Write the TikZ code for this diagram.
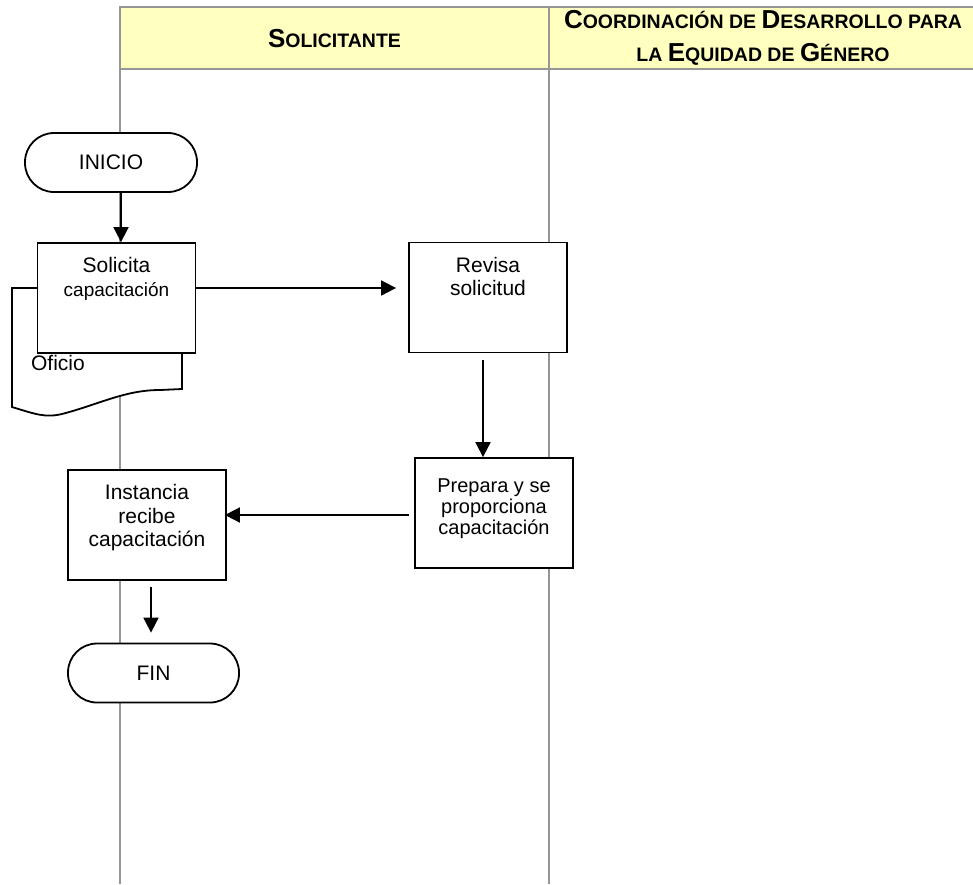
\documentclass[tikz,border=0pt]{standalone}
\usepackage{fontspec}
\setmainfont{Liberation Sans}
\usepackage{xcolor}
\usepackage{tikz}
\usetikzlibrary{arrows.meta, positioning}

\definecolor{lanehead}{RGB}{255,255,192}
\definecolor{laneline}{RGB}{150,150,150}
\newcommand{\capsc}[2]{{\fontsize{26}{34}\selectfont #1}{\fontsize{19.5}{34}\selectfont #2}}

\begin{document}
\begin{tikzpicture}[x=1pt, y=-1pt,
    box/.style={draw, fill=white, line width=1.8pt, minimum width=158pt, minimum height=110pt, inner sep=0pt},
    term/.style={draw, fill=white, line width=1.8pt, rounded corners=29pt, minimum width=172pt, minimum height=59pt, font=\fontsize{21}{24}\selectfont},
    boxtext/.style={anchor=north, align=center, font=\fontsize{21}{23.5}\selectfont, yshift=-12pt},
    arr/.style={-{Triangle[length=15pt, width=15pt]}, line width=1.8pt},
    lane/.style={draw=laneline, line width=2pt}]
    \useasboundingbox (0,0) rectangle (973,884);

    % lanes
    \fill[lanehead] (120,7) rectangle (976,69);
    \draw[lane] (976,7) -- (120,7) -- (120,884);
    \draw[lane] (120,69) -- (976,69);
    \draw[lane] (549,7) -- (549,884);
    \node[font=\bfseries] (hsol) at (334.5,39) {\capsc{S}{OLICITANTE}};
    \node[font=\bfseries\fontsize{19.5}{33}\selectfont, align=center] (hcoord) at (763,38)
        {\capsc{C}{OORDINACIÓN DE }\capsc{D}{ESARROLLO PARA}\\\capsc{}{LA }\capsc{E}{QUIDAD DE }\capsc{G}{ÉNERO}};

    % document behind the first box
    \draw[line width=1.8pt, fill=white] (182,389) -- (182,288) -- (12,288) -- (12,407)
        .. controls (35,414) and (45,418) .. (62,414)
        .. controls (100,404) and (125,390) .. (160,390) -- cycle;
    \node[font=\fontsize{21}{24}\selectfont] (oficio) at (58,363) {Oficio};

    \node[term] (inicio) at (111,162.5) {INICIO};
    \node[box, label={[boxtext]north:Solicita\\{\fontsize{19}{23}\selectfont capacitación}}] (sol) at (116.5,298) {};
    \node[box, label={[boxtext]north:Revisa\\solicitud}] (rev) at (488,297.5) {};
    \node[box, label={[boxtext, font=\fontsize{20}{21}\selectfont, yshift=-6pt]north:Prepara y se\\proporciona\\capacitación}] (prep) at (494,513) {};
    \node[box, label={[boxtext]north:Instancia\\recibe\\capacitación}] (inst) at (147,525) {};
    \node[term, minimum width=171pt] (fin) at (153.5,673) {FIN};

    \draw[arr] ([xshift=10pt]inicio.south) -- ([xshift=10pt]inicio.south |- sol.north);
    \draw[arr, shorten >=12pt] ([yshift=10pt]sol.east) -- ([yshift=10pt]sol.east -| rev.west);
    \draw[arr, shorten <=7pt] ([xshift=-5pt]rev.south) -- ([xshift=-5pt]rev.south |- prep.north);
    \draw[arr, shorten <=5pt, shorten >=-2pt] ([yshift=-2pt]prep.west) -- ([yshift=-2pt]prep.west -| inst.east);
    \draw[arr, shorten <=6pt, shorten >=10pt] ([xshift=4pt]inst.south) -- ([xshift=4pt]inst.south |- fin.north);
\end{tikzpicture}
\end{document}
